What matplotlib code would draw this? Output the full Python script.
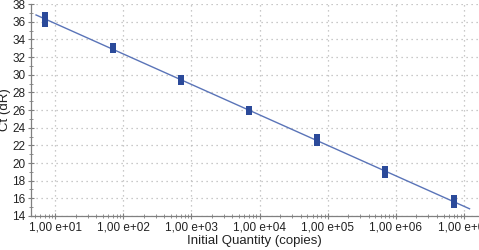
import numpy as np
import matplotlib.pyplot as plt
from matplotlib.ticker import FuncFormatter, LogLocator, MultipleLocator

plt.rcParams['font.family'] = ['Liberation Sans', 'DejaVu Sans']

# standard curve: initial quantity (copies) and replicate Ct values
quantity = [7e0, 7e0, 7e1, 7e1, 7e2, 7e2, 7e3, 7e3, 7e4, 7e4, 7e5, 7e5, 7e6, 7e6]
ct = [36.6, 35.9, 33.1, 32.9, 29.5, 29.3, 26.0, 25.9, 22.8, 22.4, 19.2, 18.8, 15.9, 15.4]
xticks = [1e1, 1e2, 1e3, 1e4, 1e5, 1e6, 1e7]
yticks = list(range(14, 39, 2))

line_c = '#5a74b8'
mark_c = '#2b4a9a'
grid_c = '#b8b8b8'

# narrow upright rectangle marker
rect = [(-0.36, -0.5), (0.36, -0.5), (0.36, 0.5), (-0.36, 0.5), (-0.36, -0.5)]

fig = plt.figure(figsize=(4.79, 2.5), dpi=100)
ax = fig.add_axes([0.065, 0.136, 0.933, 0.848])

# regression line
slope, icept = np.polyfit(np.log10(quantity), ct, 1)
lx = np.array([0.72, 7.08])
ax.plot(10 ** lx, slope * lx + icept, color=line_c, lw=1.0, zorder=2)

ax.plot(quantity, ct, linestyle='', marker=rect, markersize=6,
        color=mark_c, markeredgewidth=0, zorder=3)

ax.set_xscale('log')
ax.set_xlim(10 ** 0.648, 10 ** 7.205)
ax.set_ylim(14, 38)
ax.set_yticks(yticks)
ax.set_xticks(xticks)
ax.yaxis.set_minor_locator(MultipleLocator(1))
ax.xaxis.set_minor_locator(LogLocator(base=10, subs=np.arange(2, 10), numticks=20))
ax.xaxis.set_major_formatter(FuncFormatter(lambda v, p: '1,00 e+%02d' % round(np.log10(v))))

ax.grid(True, which='major', color=grid_c, linestyle=(0, (1, 3)), linewidth=0.9)

for s in ['top', 'right']:
    ax.spines[s].set_visible(False)
for s in ['left', 'bottom']:
    ax.spines[s].set_color('#808080')
    ax.spines[s].set_linewidth(0.9)

ax.tick_params(axis='both', which='major', labelsize=8.5, colors='#808080',
               labelcolor='#222222', length=4, width=0.8, direction='inout', pad=2)
ax.tick_params(axis='both', which='minor', colors='#808080', length=3, width=0.6,
               direction='inout')

ax.set_xlabel('Initial Quantity (copies)', fontsize=9.5, color='#222222', labelpad=1)
ax.set_ylabel('Ct (dR)', fontsize=9.5, color='#222222', labelpad=1)

fig.savefig('out.png', dpi=100)
